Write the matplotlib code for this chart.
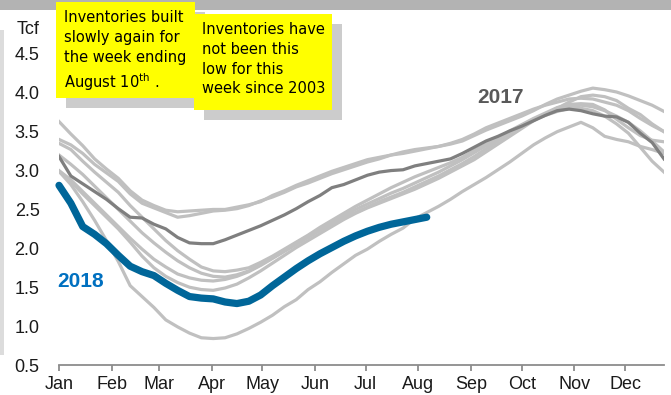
import numpy as np
import matplotlib.pyplot as plt
from matplotlib.patches import Rectangle

plt.rcParams['font.family'] = ['Liberation Sans', 'DejaVu Sans']

# weekly working gas in storage, Tcf (week 0 = first week of January)
y2010 = [3.20, 3.08, 2.95, 2.80, 2.65, 2.50, 2.35, 2.20, 2.07, 1.95, 1.84, 1.75, 1.68,
         1.64, 1.63, 1.66, 1.71, 1.79, 1.88, 1.97, 2.07, 2.16, 2.25, 2.34, 2.42, 2.50,
         2.57, 2.64, 2.71, 2.77, 2.84, 2.91, 2.98, 3.06, 3.14, 3.23, 3.32, 3.41, 3.50,
         3.58, 3.66, 3.72, 3.78, 3.82, 3.84, 3.82, 3.77, 3.70, 3.62, 3.51, 3.38, 3.24]
y2011 = [3.00, 2.88, 2.73, 2.58, 2.43, 2.28, 2.13, 1.99, 1.86, 1.76, 1.67, 1.62, 1.59,
         1.58, 1.60, 1.64, 1.70, 1.78, 1.87, 1.96, 2.05, 2.14, 2.23, 2.31, 2.39, 2.46,
         2.53, 2.60, 2.66, 2.72, 2.79, 2.86, 2.93, 3.01, 3.09, 3.18, 3.28, 3.38, 3.48,
         3.57, 3.65, 3.71, 3.76, 3.80, 3.80, 3.77, 3.70, 3.60, 3.48, 3.30, 3.12, 2.98]
y2012 = [3.40, 3.33, 3.22, 3.08, 2.97, 2.86, 2.70, 2.58, 2.52, 2.46, 2.40, 2.42, 2.45,
         2.48, 2.49, 2.51, 2.55, 2.61, 2.66, 2.72, 2.79, 2.84, 2.90, 2.96, 3.01, 3.06,
         3.11, 3.15, 3.20, 3.22, 3.25, 3.28, 3.31, 3.35, 3.40, 3.47, 3.55, 3.61, 3.67,
         3.73, 3.79, 3.84, 3.88, 3.92, 3.93, 3.92, 3.88, 3.84, 3.77, 3.67, 3.58, 3.50]
y2013 = [3.35, 3.27, 3.12, 2.98, 2.85, 2.72, 2.55, 2.40, 2.25, 2.10, 1.97, 1.86, 1.76,
         1.71, 1.70, 1.72, 1.75, 1.82, 1.90, 1.99, 2.08, 2.17, 2.27, 2.36, 2.45, 2.54,
         2.62, 2.70, 2.78, 2.85, 2.92, 2.98, 3.04, 3.10, 3.17, 3.26, 3.34, 3.42, 3.51,
         3.59, 3.67, 3.74, 3.81, 3.85, 3.86, 3.85, 3.78, 3.66, 3.55, 3.45, 3.39, 3.37]
y2014 = [2.99, 2.82, 2.60, 2.36, 2.10, 1.83, 1.52, 1.38, 1.24, 1.08, 0.99, 0.91, 0.85,
         0.84, 0.85, 0.90, 0.97, 1.05, 1.14, 1.25, 1.34, 1.47, 1.57, 1.69, 1.80, 1.91,
         1.99, 2.09, 2.18, 2.26, 2.38, 2.46, 2.54, 2.63, 2.73, 2.82, 2.91, 3.01, 3.11,
         3.22, 3.33, 3.42, 3.50, 3.56, 3.62, 3.55, 3.44, 3.40, 3.37, 3.31, 3.27, 3.22]
y2015 = [2.99, 2.86, 2.70, 2.55, 2.40, 2.25, 2.08, 1.90, 1.75, 1.64, 1.56, 1.50, 1.47,
         1.46, 1.49, 1.54, 1.62, 1.71, 1.81, 1.91, 2.01, 2.10, 2.19, 2.28, 2.37, 2.45,
         2.52, 2.58, 2.64, 2.70, 2.76, 2.83, 2.90, 2.98, 3.06, 3.14, 3.24, 3.34, 3.44,
         3.54, 3.64, 3.72, 3.80, 3.88, 3.95, 3.97, 3.95, 3.90, 3.80, 3.72, 3.60, 3.50]
y2016 = [3.63, 3.47, 3.32, 3.15, 3.02, 2.90, 2.74, 2.62, 2.55, 2.49, 2.47, 2.48, 2.49,
         2.50, 2.50, 2.53, 2.56, 2.60, 2.68, 2.74, 2.81, 2.87, 2.93, 2.99, 3.04, 3.09,
         3.14, 3.17, 3.20, 3.24, 3.27, 3.29, 3.31, 3.34, 3.38, 3.45, 3.52, 3.58, 3.64,
         3.70, 3.77, 3.85, 3.92, 3.97, 4.02, 4.06, 4.04, 4.01, 3.96, 3.90, 3.84, 3.76]
y2017 = [3.18, 2.93, 2.83, 2.73, 2.63, 2.51, 2.40, 2.39, 2.31, 2.25, 2.14, 2.07, 2.06,
         2.06, 2.11, 2.17, 2.23, 2.29, 2.36, 2.43, 2.51, 2.60, 2.68, 2.78, 2.82, 2.88,
         2.94, 2.98, 3.00, 3.01, 3.06, 3.09, 3.12, 3.15, 3.22, 3.30, 3.38, 3.44, 3.51,
         3.57, 3.64, 3.71, 3.77, 3.79, 3.77, 3.73, 3.70, 3.69, 3.62, 3.48, 3.36, 3.15]
y2018 = [2.81, 2.58, 2.28, 2.18, 2.06, 1.91, 1.77, 1.70, 1.65, 1.55, 1.46, 1.38, 1.36,
         1.35, 1.31, 1.29, 1.32, 1.40, 1.52, 1.63, 1.74, 1.84, 1.93, 2.01, 2.09, 2.16,
         2.22, 2.27, 2.31, 2.34, 2.37, 2.40]

months = ['Jan', 'Feb', 'Mar', 'Apr', 'May', 'Jun', 'Jul', 'Aug', 'Sep', 'Oct', 'Nov', 'Dec']
month_start = [0, 31, 59, 90, 120, 151, 181, 212, 243, 273, 304, 334]
yticks = [0.5, 1.0, 1.5, 2.0, 2.5, 3.0, 3.5, 4.0, 4.5]

note_left = "Inventories built\nslowly again for\nthe week ending\nAugust 10$^{\\mathrm{th}}$ ."
note_right = "Inventories have\nnot been this\nlow for this\nweek since 2003"

W, H = 671, 395


def fx(px):
    return px / W


def fy(py):
    return 1 - py / H


fig = plt.figure(figsize=(W / 100, H / 100), dpi=100)

# frame bits around the chart
fig.add_artist(Rectangle((0, fy(10)), 1, 10 / H, transform=fig.transFigure,
                         facecolor='#b3b3b3', edgecolor='none', zorder=0))
fig.add_artist(Rectangle((0, fy(355)), fx(4), (355 - 30) / H, transform=fig.transFigure,
                         facecolor='#dcdcdc', edgecolor='none', zorder=0))

ax = fig.add_axes([fx(59), fy(365), (664 - 59) / W, (365 - 15) / H])
ax.set_facecolor('none')

days = np.arange(52) * 7
for ys in [y2010, y2011, y2012, y2013, y2014, y2015, y2016]:
    ax.plot(days, ys, color='#c0c0c0', lw=2.3, solid_joinstyle='round')
ax.plot(days, y2017, color='#7f7f7f', lw=2.3, solid_joinstyle='round')
ax.plot(days[:len(y2018)], y2018, color='#006699', lw=5.2,
        solid_capstyle='round', solid_joinstyle='round', clip_on=False)

ax.set_xlim(0, 357)
ax.set_ylim(0.5, 5.0)
ax.set_xticks(month_start)
ax.set_xticklabels(months)
ax.set_yticks(yticks)
ax.set_yticklabels(['%.1f' % v for v in yticks])
for s in ['top', 'right', 'left']:
    ax.spines[s].set_visible(False)
ax.spines['bottom'].set_color('#8c8c8c')
ax.spines['bottom'].set_linewidth(1.3)
ax.tick_params(axis='x', colors='#8c8c8c', length=4, width=1.3, labelsize=13,
               labelcolor='#1a1a1a', pad=4)
ax.tick_params(axis='y', length=0, labelsize=13, labelcolor='#1a1a1a', pad=14)

ax.text(-1, 1.57, '2018', color='#0070c0', fontsize=15, fontweight='bold',
        ha='left', va='center')
ax.text(247, 3.94, '2017', color='#595959', fontsize=15, fontweight='bold',
        ha='left', va='center')
fig.text(fx(17), fy(29), 'Tcf', fontsize=13, color='#1a1a1a', va='center')

# yellow callouts with drop shadows
for x0, y0, x1, y1, txt in [(56, 2, 195, 98, note_left), (194, 14, 332, 110, note_right)]:
    fig.add_artist(Rectangle((fx(x0 + 10), fy(y1 + 10)), (x1 - x0) / W, (y1 - y0) / H,
                             transform=fig.transFigure, facecolor='#cccccc',
                             edgecolor='none', zorder=3))
    fig.add_artist(Rectangle((fx(x0), fy(y1)), (x1 - x0) / W, (y1 - y0) / H,
                             transform=fig.transFigure, facecolor='#ffff00',
                             edgecolor='none', zorder=3))
    fig.text(fx(x0 + 8), fy(y0 + 8), txt, fontsize=10.5, family='DejaVu Sans',
             color='black', va='top', ha='left', linespacing=1.4, zorder=4)

fig.savefig('out.png', dpi=100)
